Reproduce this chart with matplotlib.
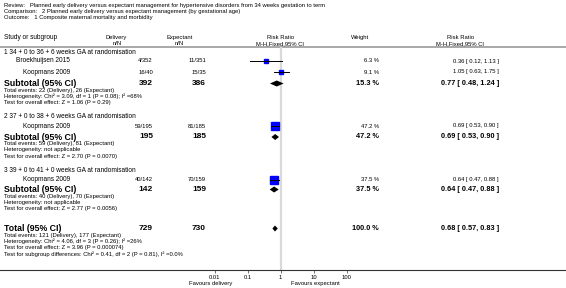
import matplotlib
matplotlib.use("Agg")
import matplotlib.pyplot as plt
import numpy as np

plt.rcParams['font.family'] = ['Liberation Sans', 'DejaVu Sans']

# ---- chart values ----
review = "Planned early delivery versus expectant management for hypertensive disorders from 34 weeks gestation to term"
comparison = "2 Planned early delivery versus expectant management (by gestational age)"
outcome = "1 Composite maternal mortality and morbidity"

subgroups = ["1 34 + 0 to 36 + 6 weeks GA at randomisation",
             "2 37 + 0 to 38 + 6 weeks GA at randomisation",
             "3 39 + 0 to 41 + 0 weeks GA at randomisation"]

studies = ["Broekhuijsen 2015", "Koopmans 2009", "Koopmans 2009", "Koopmans 2009"]
delivery_nN = ["4/352", "16/40", "59/195", "40/142"]
expectant_nN = ["11/351", "15/35", "81/185", "70/159"]
study_weight = [6.3, 9.1, 47.2, 37.5]
study_rr = [0.36, 1.05, 0.69, 0.64]
study_lo = [0.12, 0.63, 0.53, 0.47]
study_hi = [1.13, 1.75, 0.90, 0.88]

sub_delivery_n = [392, 195, 142]
sub_expectant_n = [386, 185, 159]
sub_weight = [15.3, 47.2, 37.5]
sub_rr = [0.77, 0.69, 0.64]
sub_lo = [0.48, 0.53, 0.47]
sub_hi = [1.24, 0.90, 0.88]
sub_notes = [
    ["Total events: 22 (Delivery), 26 (Expectant)",
     "Heterogeneity: Chi\u00b2 = 3.09, df = 1 (P = 0.08); I\u00b2 =68%",
     "Test for overall effect: Z = 1.06 (P = 0.29)"],
    ["Total events: 59 (Delivery), 81 (Expectant)",
     "Heterogeneity: not applicable",
     "Test for overall effect: Z = 2.70 (P = 0.0070)"],
    ["Total events: 40 (Delivery), 70 (Expectant)",
     "Heterogeneity: not applicable",
     "Test for overall effect: Z = 2.77 (P = 0.0056)"],
]

total_delivery_n = 729
total_expectant_n = 730
total_weight = 100.0
total_rr, total_lo, total_hi = 0.68, 0.57, 0.83
total_notes = ["Total events: 121 (Delivery), 177 (Expectant)",
               "Heterogeneity: Chi\u00b2 = 4.06, df = 3 (P = 0.26); I\u00b2 =26%",
               "Test for overall effect: Z = 3.96 (P = 0.000074)",
               "Test for subgroup differences: Chi\u00b2 = 0.41, df = 2 (P = 0.81), I\u00b2 =0.0%"]

ticks = [0.01, 0.1, 1, 10, 100]
tick_labels = ["0.01", "0.1", "1", "10", "100"]

# ---- layout (pixels from top-left) ----
W, H = 566, 288
one_x, decade = 280.5, 33.0      # where RR=1 sits, pixels per decade
axis_y = 270
sep_y = 47
group_y = [52.5, 117, 171]
study_y = [61, 72, 126, 179.5]
sub_y = [83.5, 137, 189.5]
total_y = 228.5
note_dy = [6.8, 13.0, 19.2, 25.4]

x_name_right = 70
x_del = 153
x_exp = 206
x_wt = 379
x_rr = 499

small = 4.2
mid = 4.7
big = 6.3
bignum = 5.3

fig = plt.figure(figsize=(W / 100, H / 100), dpi=100)
ax = fig.add_axes([0, 0, 1, 1])
ax.set_xlim(0, W)
ax.set_ylim(H, 0)
ax.axis('off')

# forest axis, log scale, spanning full width so the bottom spine runs edge to edge
fx = fig.add_axes([0, 1 - axis_y / H, 1, axis_y / H])
fx.set_xscale('log')
fx.set_xlim(10 ** (-one_x / decade), 10 ** ((W - one_x) / decade))
fx.set_ylim(axis_y, 0)
fx.patch.set_visible(False)
for s in ['top', 'left', 'right']:
    fx.spines[s].set_visible(False)
fx.spines['bottom'].set_linewidth(0.8)
fx.spines['bottom'].set_color('#333333')
fx.set_yticks([])
fx.set_xticks(ticks)
fx.set_xticklabels(tick_labels, fontsize=small)
fx.xaxis.set_minor_locator(matplotlib.ticker.NullLocator())
fx.tick_params(axis='x', length=2, width=0.5, pad=1.5, color='#333333')

# reference line at RR = 1
fx.vlines(1, sep_y, axis_y, color='#d9d9d9', lw=1.6, zorder=1)

# header
ax.text(4, 5, "Review:   " + review, fontsize=small, va='center')
ax.text(4, 11.3, "Comparison:   " + comparison, fontsize=small, va='center')
ax.text(4, 17.6, "Outcome:   " + outcome, fontsize=small, va='center')

ax.text(4, 37.5, "Study or subgroup", fontsize=mid, va='center')
ax.text(116, 37.5, "Delivery", fontsize=small, va='center', ha='center')
ax.text(117, 43.5, "n/N", fontsize=small, va='center', ha='center')
ax.text(180, 37.5, "Expectant", fontsize=small, va='center', ha='center')
ax.text(179, 43.5, "n/N", fontsize=small, va='center', ha='center')
ax.text(one_x, 37.5, "Risk Ratio", fontsize=small, va='center', ha='center')
ax.text(one_x, 43.5, "M-H,Fixed,95% CI", fontsize=small, va='center', ha='center')
ax.text(360, 37.5, "Weight", fontsize=small, va='center', ha='center')
ax.text(461, 37.5, "Risk Ratio", fontsize=small, va='center', ha='center')
ax.text(460, 43.5, "M-H,Fixed,95% CI", fontsize=small, va='center', ha='center')
ax.axhline(sep_y, color='#a8a8a8', lw=1.4)

# subgroup titles
for g, y in enumerate(group_y):
    ax.text(4, y, subgroups[g], fontsize=mid, va='center')

# individual studies
for i, y in enumerate(study_y):
    ax.text(x_name_right, y, studies[i], fontsize=mid, va='center', ha='right')
    ax.text(x_del, y, delivery_nN[i], fontsize=small, va='center', ha='right')
    ax.text(x_exp, y, expectant_nN[i], fontsize=small, va='center', ha='right')
    ax.text(x_wt, y, f"{study_weight[i]:.1f} %", fontsize=small, va='center', ha='right')
    ax.text(x_rr, y, f"{study_rr[i]:.2f} [ {study_lo[i]:.2f}, {study_hi[i]:.2f} ]",
            fontsize=small, va='center', ha='right')
    side = 1.22 * np.sqrt(study_weight[i])  # pixels, area follows weight
    fx.plot(study_rr[i], y, marker='s', ms=side * 0.72, color='#0000ff', mec='#0000ff', zorder=3)
    fx.plot([study_lo[i], study_hi[i]], [y, y], color='black', lw=0.7, zorder=4)


def diamond(rr, lo, hi, y, half=3.0):
    fx.fill([lo, rr, hi, rr], [y, y - half, y, y + half], color='black', lw=0, zorder=4)


# subtotals
for g, y in enumerate(sub_y):
    ax.text(4, y, "Subtotal (95% CI)", fontsize=big, fontweight='bold', va='center')
    ax.text(x_del, y, str(sub_delivery_n[g]), fontsize=big - 0.3, fontweight='bold', va='center', ha='right')
    ax.text(x_exp, y, str(sub_expectant_n[g]), fontsize=big - 0.3, fontweight='bold', va='center', ha='right')
    ax.text(x_wt, y, f"{sub_weight[g]:.1f} %", fontsize=bignum, fontweight='bold', va='center', ha='right')
    ax.text(x_rr, y, f"{sub_rr[g]:.2f} [ {sub_lo[g]:.2f}, {sub_hi[g]:.2f} ]",
            fontsize=bignum, fontweight='bold', va='center', ha='right')
    diamond(sub_rr[g], sub_lo[g], sub_hi[g], y)
    for k, note in enumerate(sub_notes[g]):
        ax.text(4, y + note_dy[k], note, fontsize=small, va='center')

# overall total
ax.text(4, total_y, "Total (95% CI)", fontsize=big, fontweight='bold', va='center')
ax.text(x_del, total_y, str(total_delivery_n), fontsize=big - 0.3, fontweight='bold', va='center', ha='right')
ax.text(x_exp, total_y, str(total_expectant_n), fontsize=big - 0.3, fontweight='bold', va='center', ha='right')
ax.text(x_wt, total_y, f"{total_weight:.1f} %", fontsize=bignum, fontweight='bold', va='center', ha='right')
ax.text(x_rr, total_y, f"{total_rr:.2f} [ {total_lo:.2f}, {total_hi:.2f} ]",
        fontsize=bignum, fontweight='bold', va='center', ha='right')
diamond(total_rr, total_lo, total_hi, total_y)
for k, note in enumerate(total_notes):
    ax.text(4, total_y + note_dy[k], note, fontsize=small, va='center')

ax.text(211, 283, "Favours delivery", fontsize=small, va='center', ha='center')
ax.text(315, 283, "Favours expectant", fontsize=small, va='center', ha='center')

fig.savefig("out.png", dpi=100)
